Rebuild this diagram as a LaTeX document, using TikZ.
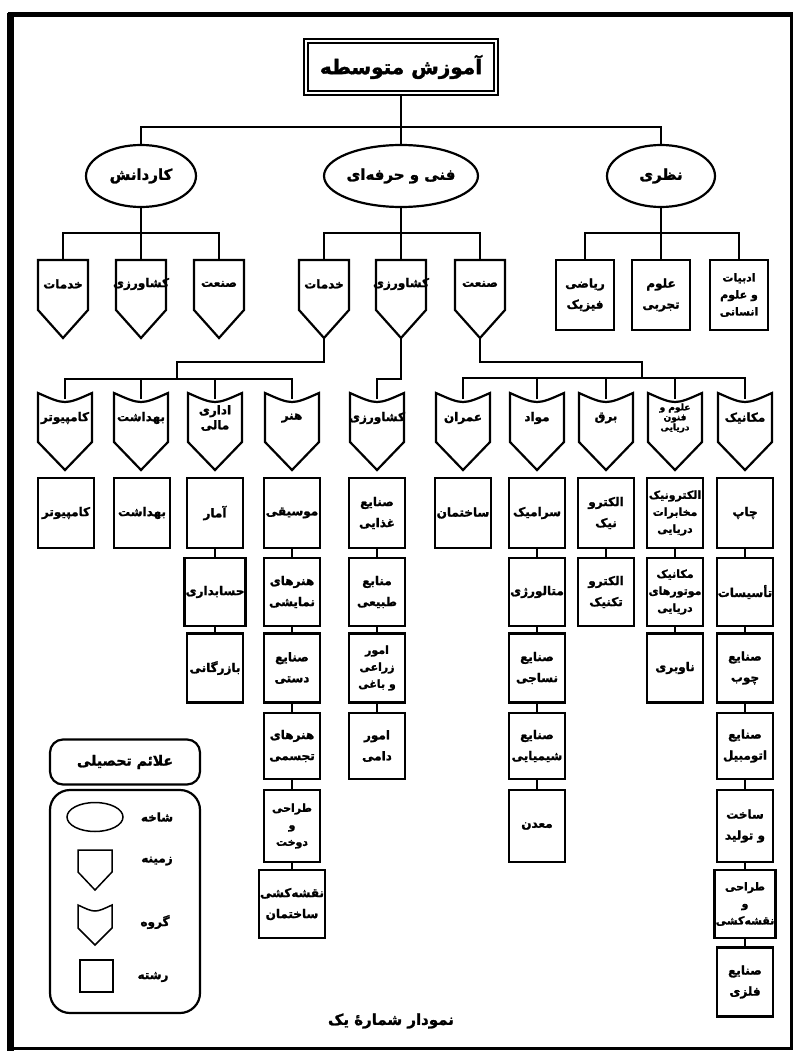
\documentclass[tikz,border=0pt]{standalone}
\usepackage{fontspec}
\newfontfamily\arabicfont[Script=Arabic,BoldFeatures={FakeBold=1.6}]{DejaVu Sans}
\TeXXeTstate=1
\usetikzlibrary{shapes.geometric}
\newcommand\fa[1]{\beginR#1\endR}
\tikzset{
  shp/.style={draw=black, line width=2.2pt, fill=white, line join=miter},
  thinshp/.style={draw=black, line width=1.5pt, fill=white},
  conn/.style={draw=black, line width=1.7pt},
  lbl/.style={font=\arabicfont\bfseries\fontsize{12}{15}\selectfont, align=center, inner sep=0pt},
  slbl/.style={font=\arabicfont\bfseries\fontsize{9}{10}\selectfont, align=center, inner sep=0pt},
  rbox/.style={draw=black, line width=2.4pt, fill=white, minimum width=56pt, inner sep=1pt, align=center,
     font=\arabicfont\bfseries\fontsize{12}{21}\selectfont},
  rbox3/.style={rbox, font=\arabicfont\bfseries\fontsize{11}{17}\selectfont},
  ell/.style={ellipse, draw=black, line width=2.2pt, fill=white, inner sep=0pt,
     font=\arabicfont\bfseries\fontsize{15}{17}\selectfont},
  leglbl/.style={font=\arabicfont\bfseries\fontsize{12}{14}\selectfont, inner sep=0pt},
}
% level-2 field shape (flat top)
\newcommand\zam[3]{%
  \draw[shp] (#2-25,260) -- (#2+25,260) -- (#2+25,310) -- (#2,338) -- (#2-25,310) -- cycle;
  \node[lbl] (#1) at (#2,284) {#3};
  \coordinate (#1-t) at (#2,260);
  \coordinate (#1-b) at (#2,338);
}
% level-3 group shape (hollow top)
\newcommand\grp[4][lbl]{%
  \draw[shp] (#3-27,393) .. controls (#3,405) .. (#3+27,393) -- (#3+27,442) -- (#3,470) -- (#3-27,442) -- cycle;
  \node[#1] (#2) at (#3,418) {#4};
  \coordinate (#2-t) at (#3,399);
}
\begin{document}
\begin{tikzpicture}[x=1pt,y=-1pt]
\useasboundingbox (0,0) rectangle (798,1059);
\fill[white] (0,0) rectangle (798,1059);
% frame
\draw[line width=3pt] (10,16) rectangle (791,1048);
\draw[line width=7pt] (10,13) -- (10,1051);
\draw[line width=5pt] (8,15) -- (793,15);

% title
\node[draw=black, line width=1.7pt, double, double distance=2.5pt, minimum width=190pt, minimum height=52pt,
  font=\arabicfont\bfseries\fontsize{20}{22}\selectfont] (title) at (401,67) {\fa{آموزش متوسطه}};

% level 1
\node[ell, minimum width=110pt, minimum height=62pt] (kar) at (141,176) {\fa{کاردانش}};
\node[ell, minimum width=126pt, minimum height=62pt] (fan) at (401,176) {\fa{فنی و حرفه‌ای}};
\node[ell, minimum width=108pt, minimum height=62pt] (naz) at (661,176) {\fa{نظری}};
\coordinate (h1) at (401,127);
\draw[conn] (title.south) -- (fan.north);
\draw[conn] (kar.north) |- (h1) -| (naz.north);

% level 2
\zam{k-khad}{63}{\fa{خدمات}}
\zam{k-kesh}{141}{\fa{کشاورزی}}
\zam{k-san}{219}{\fa{صنعت}}
\zam{f-khad}{324}{\fa{خدمات}}
\zam{f-kesh}{401}{\fa{کشاورزی}}
\zam{f-san}{480}{\fa{صنعت}}
\node[rbox, minimum width=58pt, minimum height=70pt] (n-riazi) at (585,295) {\fa{ریاضی}\\\fa{فیزیک}};
\node[rbox, minimum width=58pt, minimum height=70pt] (n-tajrobi) at (661,295) {\fa{علوم}\\\fa{تجربی}};
\node[rbox3, minimum width=58pt, minimum height=70pt] (n-adabiat) at (739,295) {\fa{ادبیات}\\\fa{و علوم}\\\fa{انسانی}};
\coordinate (h2k) at (141,233);
\coordinate (h2f) at (401,233);
\coordinate (h2n) at (661,233);
\draw[conn] (kar.south) -- (k-kesh-t);
\draw[conn] (k-khad-t) |- (h2k) -| (k-san-t);
\draw[conn] (fan.south) -- (f-kesh-t);
\draw[conn] (f-khad-t) |- (h2f) -| (f-san-t);
\draw[conn] (naz.south) -- (n-tajrobi.north);
\draw[conn] (n-riazi.north) |- (h2n) -| (n-adabiat.north);

% level 3 groups
\grp{g-comp}{65}{\fa{کامپیوتر}}
\grp{g-beh}{141}{\fa{بهداشت}}
\grp{g-edari}{215}{\fa{اداری}\\\fa{مالی}}
\grp{g-honar}{292}{\fa{هنر}}
\grp{g-kesh}{377}{\fa{کشاورزی}}
\grp{g-omran}{463}{\fa{عمران}}
\grp{g-mavad}{537}{\fa{مواد}}
\grp{g-bargh}{606}{\fa{برق}}
\grp[slbl]{g-darya}{675}{\fa{علوم و}\\\fa{فنون}\\\fa{دریایی}}
\grp{g-mech}{745}{\fa{مکانیک}}

\coordinate (j1) at (177,362);
\coordinate (j1b) at (177,379);
\draw[conn] (f-khad-b) |- (j1) -- (j1b);
\draw[conn] (g-comp-t) |- (j1b) -| (g-honar-t);
\draw[conn] (g-beh-t) -- (g-beh-t |- j1b);
\draw[conn] (g-edari-t) -- (g-edari-t |- j1b);

\coordinate (j2) at (377,379);
\draw[conn] (f-kesh-b) |- (j2) -- (g-kesh-t);

\coordinate (j3) at (642,362);
\coordinate (j3b) at (642,378);
\draw[conn] (f-san-b) |- (j3) -- (j3b);
\draw[conn] (g-omran-t) |- (j3b) -| (g-mech-t);
\draw[conn] (g-mavad-t) -- (g-mavad-t |- j3b);
\draw[conn] (g-bargh-t) -- (g-bargh-t |- j3b);
\draw[conn] (g-darya-t) -- (g-darya-t |- j3b);

% majors (rows A..G)
\node[rbox, minimum height=70pt] (r-comp) at (66,513) {\fa{کامپیوتر}};
\node[rbox, minimum height=70pt] (r-beh) at (142,513) {\fa{بهداشت}};

\node[rbox, minimum height=70pt] (r-amar) at (215,513) {\fa{آمار}};
\node[rbox, minimum height=68pt] (r-hesab) at (215,592) {\fa{حسابداری}};
\node[rbox, minimum height=69pt] (r-bazar) at (215,668) {\fa{بازرگانی}};

\node[rbox, minimum height=70pt] (r-music) at (292,513) {\fa{موسیقی}};
\node[rbox, minimum height=68pt] (r-namayesh) at (292,592) {\fa{هنرهای}\\\fa{نمایشی}};
\node[rbox, minimum height=69pt] (r-dasti) at (292,668) {\fa{صنایع}\\\fa{دستی}};
\node[rbox, minimum height=66pt] (r-tajasom) at (292,746) {\fa{هنرهای}\\\fa{تجسمی}};
\node[rbox3, minimum height=72pt] (r-dookht) at (292,826) {\fa{طراحی}\\\fa{و}\\\fa{دوخت}};
\node[rbox, minimum height=68pt] (r-naghshe) at (292,904) {\fa{نقشه‌کشی}\\\fa{ساختمان}};

\node[rbox, minimum height=70pt] (r-ghaza) at (377,513) {\fa{صنایع}\\\fa{غذایی}};
\node[rbox, minimum height=68pt] (r-manabe) at (377,592) {\fa{منابع}\\\fa{طبیعی}};
\node[rbox3, minimum height=69pt] (r-zeraei) at (377,668) {\fa{امور}\\\fa{زراعی}\\\fa{و باغی}};
\node[rbox, minimum height=66pt] (r-dami) at (377,746) {\fa{امور}\\\fa{دامی}};

\node[rbox, minimum height=70pt] (r-sakht) at (463,513) {\fa{ساختمان}};

\node[rbox, minimum height=70pt] (r-seramik) at (537,513) {\fa{سرامیک}};
\node[rbox, minimum height=68pt] (r-metal) at (537,592) {\fa{متالورژی}};
\node[rbox, minimum height=69pt] (r-nasaji) at (537,668) {\fa{صنایع}\\\fa{نساجی}};
\node[rbox, minimum height=66pt] (r-shimi) at (537,746) {\fa{صنایع}\\\fa{شیمیایی}};
\node[rbox, minimum height=72pt] (r-maadan) at (537,826) {\fa{معدن}};

\node[rbox, minimum height=70pt] (r-elec) at (606,513) {\fa{الکترو}\\\fa{نیک}};
\node[rbox, minimum height=68pt] (r-electech) at (606,592) {\fa{الکترو}\\\fa{تکنیک}};

\node[rbox3, minimum height=70pt] (r-mokhab) at (675,513) {\fa{الکترونیک}\\\fa{مخابرات}\\\fa{دریایی}};
\node[rbox3, minimum height=68pt] (r-motor) at (675,592) {\fa{مکانیک}\\\fa{موتورهای}\\\fa{دریایی}};
\node[rbox, minimum height=69pt] (r-navbari) at (675,668) {\fa{ناوبری}};

\node[rbox, minimum height=70pt] (r-chap) at (745,513) {\fa{چاپ}};
\node[rbox, minimum height=68pt] (r-tasisat) at (745,592) {\fa{تأسیسات}};
\node[rbox, minimum height=69pt] (r-choob) at (745,668) {\fa{صنایع}\\\fa{چوب}};
\node[rbox, minimum height=66pt] (r-auto) at (745,746) {\fa{صنایع}\\\fa{اتومبیل}};
\node[rbox, minimum height=72pt] (r-tolid) at (745,826) {\fa{ساخت}\\\fa{و تولید}};
\node[rbox3, minimum height=68pt] (r-tarahi) at (745,904) {\fa{طراحی}\\\fa{و}\\\fa{نقشه‌کشی}};
\node[rbox, minimum height=69pt] (r-felezi) at (745,982) {\fa{صنایع}\\\fa{فلزی}};

\draw[conn] (r-amar) -- (r-hesab) -- (r-bazar);
\draw[conn] (r-music) -- (r-namayesh) -- (r-dasti) -- (r-tajasom) -- (r-dookht) -- (r-naghshe);
\draw[conn] (r-ghaza) -- (r-manabe) -- (r-zeraei) -- (r-dami);
\draw[conn] (r-seramik) -- (r-metal) -- (r-nasaji) -- (r-shimi) -- (r-maadan);
\draw[conn] (r-elec) -- (r-electech);
\draw[conn] (r-mokhab) -- (r-motor) -- (r-navbari);
\draw[conn] (r-chap) -- (r-tasisat) -- (r-choob) -- (r-auto) -- (r-tolid) -- (r-tarahi) -- (r-felezi);

% legend
\node[draw=black, line width=2.2pt, rounded corners=13pt, minimum width=150pt, minimum height=45pt,
  font=\arabicfont\bfseries\fontsize{14}{16}\selectfont] (legt) at (125,762) {\fa{علائم تحصیلی}};
\draw[line width=2.2pt, rounded corners=20pt] (50,790) rectangle (200,1013);
\coordinate (legb) at (125,901.5);
\draw[thinshp] (95,817) ellipse [x radius=28, y radius=14.5];
\node[leglbl] (leg-e-l) at (157,817) {\fa{شاخه}};
\draw[thinshp] (78,850) -- (112,850) -- (112,872) -- (95,890) -- (78,872) -- cycle;
\node[leglbl] (leg-z-l) at (157,861) {\fa{زمینه}};
\draw[thinshp] (78,905) .. controls (95,913) .. (112,905) -- (112,928) -- (95,945) -- (78,928) -- cycle;
\node[leglbl] (leg-g-l) at (155,922) {\fa{گروه}};
\draw[thinshp] (80,960) rectangle (113,992);
\node[leglbl] (leg-r-l) at (153,977) {\fa{رشته}};

% caption
\node[font=\arabicfont\bfseries\fontsize{15}{17}\selectfont] (caption) at (391,1021) {\fa{نمودار شمارهٔ یک}};
\end{tikzpicture}
\end{document}
